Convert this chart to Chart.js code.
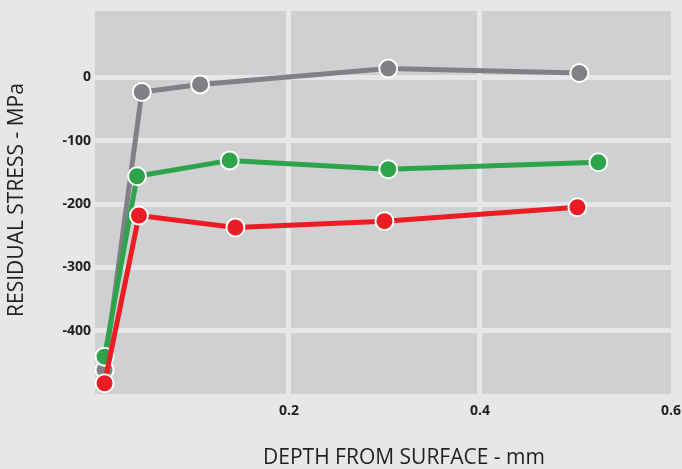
<!DOCTYPE html>
<html>
<head>
<meta charset="utf-8">
<script src="https://cdn.jsdelivr.net/npm/chart.js@4/dist/chart.umd.min.js"></script>
<style>
  html, body { margin: 0; padding: 0; background: #e6e7e8; }
  #wrap { width: 682px; height: 469px; position: relative; }
</style>
</head>
<body>
<div id="wrap"><canvas id="mycanvas"></canvas></div>
<script>
// depth (mm) and residual stress (MPa)
var grayDepth   = [0.007, 0.046, 0.107, 0.304, 0.504];
var grayStress  = [-462, -23, -11, 14, 7];
var greenDepth  = [0.007, 0.041, 0.138, 0.304, 0.524];
var greenStress = [-441, -156, -131, -145, -134];
var redDepth    = [0.007, 0.043, 0.144, 0.300, 0.502];
var redStress   = [-483, -218, -237, -227, -205];

var yTickLabels = [0, -100, -200, -300, -400];
var xTickLabels = [0.2, 0.4, 0.6];

var xTitle = 'DEPTH FROM SURFACE - mm';
var yTitle = 'RESIDUAL STRESS - MPa';

function toPoints(xs, ys) {
  var pts = [];
  for (var i in xs) {
    pts.push({x: xs[i], y: ys[i]});
  }
  return pts;
}

function toTicks(list) {
  var t = [];
  for (var i in list) t.push({value: list[i]});
  return t;
}

// grey plot area behind the grid
var plotBg = {
  id: 'plotBg',
  beforeDraw: function(chart) {
    var a = chart.chartArea, c = chart.ctx;
    c.save();
    c.fillStyle = '#cfd0d2';
    c.fillRect(a.left, a.top, a.right - a.left, a.bottom - a.top);
    c.restore();
  }
};

// axis titles placed like the original
var axisTitles = {
  id: 'axisTitles',
  afterDraw: function(chart) {
    var c = chart.ctx;
    c.save();
    c.fillStyle = '#231f20';
    c.font = '21px "Open Sans"';
    c.textAlign = 'center';
    c.textBaseline = 'middle';
    c.fillText(xTitle, 404, 458);
    c.translate(17, 200);
    c.rotate(-Math.PI / 2);
    c.fillText(yTitle, 0, 0);
    c.restore();
  }
};

function makeSet(label, xs, ys, color, order) {
  return {
    label: label,
    data: toPoints(xs, ys),
    borderColor: color,
    backgroundColor: color,
    pointBackgroundColor: color,
    pointBorderColor: '#ffffff',
    pointBorderWidth: 2,
    pointRadius: 9,
    borderWidth: 5,
    tension: 0,
    order: order
  };
}

var ctx = document.getElementById('mycanvas').getContext('2d');
var chart = new Chart(ctx, {
  type: 'line',
  data: {
    datasets: [
      makeSet('gray', grayDepth, grayStress, '#808184', 3),
      makeSet('green', greenDepth, greenStress, '#2ea44a', 2),
      makeSet('red', redDepth, redStress, '#ec1c24', 1)
    ]
  },
  plugins: [plotBg, axisTitles],
  options: {
    responsive: true,
    maintainAspectRatio: false,
    animation: false,
    layout: { padding: { top: 11, left: 0, right: 11, bottom: 0 } },
    plugins: {
      legend: { display: false },
      tooltip: { enabled: false }
    },
    scales: {
      x: {
        type: 'linear',
        min: -0.003,
        max: 0.6,
        border: { display: false },
        grid: {
          drawTicks: false,
          lineWidth: 5,
          color: function(c) {
            return c.tick.value < 0.59 ? '#e6e7e8' : 'rgba(0,0,0,0)';
          }
        },
        ticks: {
          padding: 9,
          maxRotation: 0,
          autoSkip: false,
          color: '#231f20',
          font: { family: 'Open Sans', size: 14, weight: 'bold' },
          callback: function(v) { return v.toFixed(1); }
        },
        afterBuildTicks: function(s) { s.ticks = toTicks(xTickLabels); },
        afterFit: function(s) {
          s.height = 75;
          s.paddingRight = 0;
          s.paddingLeft = 0;
        }
      },
      y: {
        type: 'linear',
        min: -500,
        max: 105,
        border: { display: false },
        grid: {
          drawTicks: false,
          lineWidth: 5,
          color: '#e6e7e8'
        },
        ticks: {
          padding: 4,
          autoSkip: false,
          color: '#231f20',
          font: { family: 'Open Sans', size: 14, weight: 'bold' },
          callback: function(v) { return String(v); }
        },
        afterBuildTicks: function(s) { s.ticks = toTicks(yTickLabels); },
        afterFit: function(s) {
          s.width = 95;
          s.paddingTop = 0;
          s.paddingBottom = 0;
        }
      }
    }
  }
});
</script>
</body>
</html>
